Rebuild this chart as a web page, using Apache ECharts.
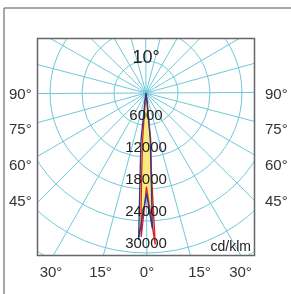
<!DOCTYPE html>
<html>
<head>
<meta charset="utf-8">
<script src="https://cdn.jsdelivr.net/npm/echarts@6/dist/echarts.min.js"></script>
<style>
  html, body { margin: 0; padding: 0; background: #fff; }
  #chart { width: 291px; height: 294px; }
</style>
</head>
<body>
<div id="chart"></div>
<script>
// C0-C180 plane (red) and C90-C270 plane (blue), angle from nadir, right side positive
const redAngles = [-12, -6, -4.5, -3.4, -2.8, -2.2, -1.2, 0, 1.5, 2.5, 3.2, 3.6, 5.5, 7, 12]
const redValues = [0, 1500, 8800, 15000, 21000, 27000, 22000, 17600, 21500, 25500, 28500, 15000, 8800, 1500, 0]
const blueAngles = [-12, -7.5, -6.4, -4.8, -4.0, -3.5, -3.2, -2.0, 0, 1.3, 2.4, 3.05, 4.9, 6.5, 12]
const blueValues = [0, 1500, 8900, 13500, 18200, 22900, 27600, 23200, 18800, 22100, 25400, 17100, 8800, 1500, 0]

const radiusMax = 36000
const radiusStep = 6000
const angleStep = 15
const sideLabels = ['90°', '75°', '60°', '45°']
const bottomLabels = ['30°', '15°', '0°', '15°', '30°']
const beamLabel = '10°'
const unitLabel = 'cd/klm'

// layout (pixels)
const cx = 146, cy = 93, R = 192
const box = { x: 37.5, y: 38.5, w: 217, h: 217 }
const sideY = [95, 130, 166, 202]
const bottomX = [51, 100.5, 147, 199.5, 240.5]

const font = 'Liberation Sans, Arial, sans-serif'
const gridColor = '#6fc8d8'
const hidden = { show: false }

const pairs = (a, v) => a.map((ang, i) => [v[i], ang])

const chart = echarts.init(document.getElementById('chart'))

const graphics = [
  // masks outside the frame
  { type: 'rect', z: 100, silent: true, shape: { x: 0, y: 0, width: 291, height: box.y }, style: { fill: '#fff' } },
  { type: 'rect', z: 100, silent: true, shape: { x: 0, y: box.y + box.h, width: 291, height: 294 }, style: { fill: '#fff' } },
  { type: 'rect', z: 100, silent: true, shape: { x: 0, y: 0, width: box.x, height: 294 }, style: { fill: '#fff' } },
  { type: 'rect', z: 100, silent: true, shape: { x: box.x + box.w, y: 0, width: 291, height: 294 }, style: { fill: '#fff' } },
  // frames
  { type: 'rect', z: 101, silent: true, shape: { x: box.x, y: box.y, width: box.w, height: box.h }, style: { fill: null, stroke: '#666', lineWidth: 1.5 } },
  { type: 'line', z: 101, silent: true, shape: { x1: 4, y1: 8, x2: 291, y2: 8 }, style: { stroke: '#8a8a8a', lineWidth: 1.5 } },
  { type: 'line', z: 101, silent: true, shape: { x1: 4, y1: 8, x2: 4, y2: 294 }, style: { stroke: '#8a8a8a', lineWidth: 1.5 } },
  { type: 'text', z: 102, x: 146, y: 58, style: { text: beamLabel, font: '18px ' + font, fill: '#222', align: 'center', verticalAlign: 'middle' } },
  { type: 'text', z: 102, x: 251, y: 247, style: { text: unitLabel, font: '14px ' + font, fill: '#222', align: 'right', verticalAlign: 'middle' } }
]
sideLabels.forEach((t, i) => {
  graphics.push({ type: 'text', z: 102, x: 9, y: sideY[i], style: { text: t, font: '15px ' + font, fill: '#333', align: 'left', verticalAlign: 'middle' } })
  graphics.push({ type: 'text', z: 102, x: 265, y: sideY[i], style: { text: t, font: '15px ' + font, fill: '#333', align: 'left', verticalAlign: 'middle' } })
})
bottomLabels.forEach((t, i) => {
  graphics.push({ type: 'text', z: 102, x: bottomX[i], y: 273, style: { text: t, font: '15px ' + font, fill: '#333', align: 'center', verticalAlign: 'middle' } })
})

chart.setOption({
  animation: false,
  polar: [
    { center: [cx, cy], radius: R },
    { center: [cx, cy], radius: R }
  ],
  angleAxis: [
    {
      // tiny offset keeps the diagonals off exact pixel corners
      polarIndex: 0, type: 'value', min: -180, max: 180, interval: angleStep,
      startAngle: 90.3, clockwise: false,
      axisLine: hidden, axisTick: hidden, axisLabel: hidden, splitArea: hidden,
      splitLine: { show: true, lineStyle: { color: gridColor, width: 1 } }
    },
    {
      polarIndex: 1, type: 'value', min: 0, max: 360, interval: 90, startAngle: -90,
      axisLine: hidden, axisTick: hidden, axisLabel: hidden, splitLine: hidden, splitArea: hidden
    }
  ],
  radiusAxis: [
    {
      polarIndex: 0, type: 'value', min: 0, max: radiusMax, interval: radiusStep,
      axisLine: hidden, axisTick: hidden, axisLabel: hidden, splitArea: hidden,
      splitLine: { show: true, lineStyle: { color: gridColor, width: 1 } }
    },
    {
      polarIndex: 1, type: 'value', min: 0, max: radiusMax, interval: radiusStep, z: 10,
      axisLine: hidden, axisTick: hidden, splitLine: hidden, splitArea: hidden,
      axisLabel: {
        margin: 0, align: 'center', verticalAlign: 'bottom', padding: [0, 0, 2, 0],
        fontFamily: font, fontSize: 15, color: '#222',
        formatter: v => (v > 0 && v < radiusMax ? String(v) : '')
      }
    }
  ],
  series: [
    {
      type: 'line', coordinateSystem: 'polar', polarIndex: 0, symbol: 'none',
      data: pairs(redAngles, redValues),
      lineStyle: { width: 0 }, areaStyle: { color: '#f6a98f', opacity: 1 }
    },
    {
      type: 'line', coordinateSystem: 'polar', polarIndex: 0, symbol: 'none',
      data: pairs(blueAngles, blueValues),
      lineStyle: { width: 0 }, areaStyle: { color: '#f8ea7c', opacity: 1 }
    },
    {
      type: 'line', coordinateSystem: 'polar', polarIndex: 0, symbol: 'none',
      data: pairs(redAngles, redValues),
      lineStyle: { color: '#e3221f', width: 1.3 }
    },
    {
      type: 'line', coordinateSystem: 'polar', polarIndex: 0, symbol: 'none',
      data: pairs(blueAngles, blueValues),
      lineStyle: { color: '#2b3a8e', width: 1.3 }
    }
  ],
  graphic: graphics
})
</script>
</body>
</html>
